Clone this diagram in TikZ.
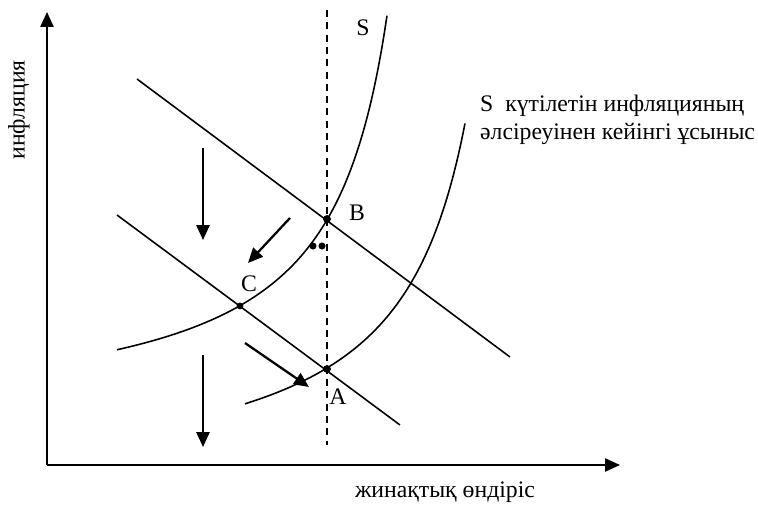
\documentclass[tikz,border=0pt]{standalone}
\usepackage{fontspec}
\setmainfont{Liberation Serif}
\usetikzlibrary{arrows.meta}
\begin{document}
\begin{tikzpicture}[>={Triangle[length=8.5pt,width=7.5pt]}, x=0.2cm, y=0.2cm,
    font=\fontsize{13.5}{16}\selectfont]
    \useasboundingbox (-4.7,-4.2) rectangle (71.1,46.5);
    % 1. Координаталар осі
    \coordinate (O) at (0,0);
    \draw[line width=1pt, ->] (O) -- (57.3,0);
    \draw[line width=1pt, ->] (O) -- (0,45.3);
    \node[rotate=90] (ylab) at (-2.8,35.5) {инфляция};
    \node (xlab) at (39.8,-2.7) {жинақтық өндіріс};

    % 2. Ұсыныс қисықтары
    \draw[line width=0.9pt, samples=100, domain=7:34]
        plot (\x, {4.1+245/(40-\x)});
    \draw[line width=0.9pt, samples=100, domain=19.8:41.8]
        plot (\x, {-3.06+268/(49-\x)});
    \node (S1) at (31.6,43.7) {S};
    \node[align=left, anchor=west] (S2) at (42.7,34.5)
        {S~ күтілетін инфляцияның\\әлсіреуінен кейінгі ұсыныс};

    % 3. Сұраныс түзулері
    \draw[line width=0.9pt] (9,38.6) -- (46.3,10.8);
    \draw[line width=0.9pt] (7,25) -- (35.3,4);

    % 4. Тік штрих сызық
    \draw[line width=0.9pt, dash pattern=on 4pt off 3pt] (28,45.5) -- (28,2);

    % 5. Нүктелер
    \coordinate (B) at (28,24.6);
    \coordinate (C) at (19.3,15.9);
    \coordinate (A) at (28,9.6);
    \filldraw (B) circle (2pt);
    \filldraw (C) circle (1.7pt);
    \filldraw (A) circle (2pt);
    \filldraw (26.6,21.9) circle (1.8pt);
    \filldraw (27.5,21.9) circle (1.8pt);
    \node (labB) at (31,25.2) {B};
    \node (labC) at (20.2,18.1) {C};
    \node (labA) at (29.1,6.8) {A};

    % 6. Ығысу бағыттары
    \draw[line width=1.3pt, ->] (15.6,31.7) -- (15.6,22.5);
    \draw[line width=1.3pt, ->] (24.3,24.7) -- (20.1,20.2);
    \draw[line width=1.3pt, ->] (15.6,11) -- (15.6,1.8);
    \draw[line width=1.3pt, ->] (19.8,12.2) -- (26.2,7.8);
\end{tikzpicture}
\end{document}
